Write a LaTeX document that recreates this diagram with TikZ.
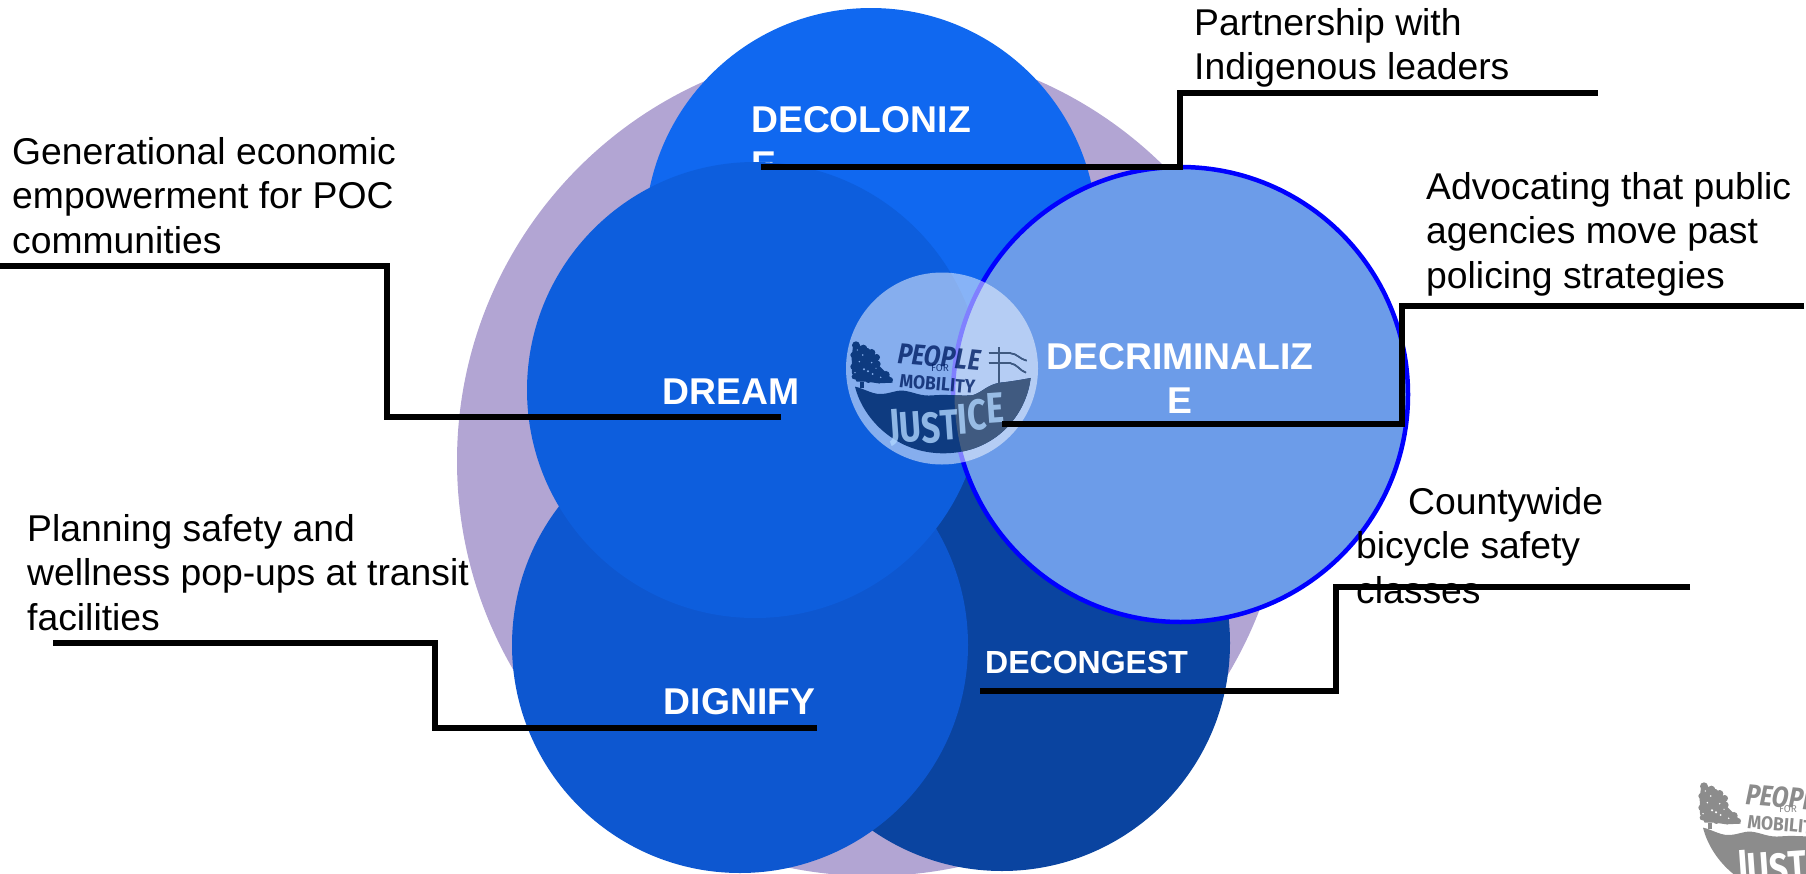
\documentclass[tikz,border=0pt]{standalone}
\usepackage{fontspec}
\setmainfont{Liberation Sans}
\newfontfamily\logofont{Fira Sans}
\definecolor{purplebg}{RGB}{178,165,211}
\definecolor{bluetop}{RGB}{16,104,240}
\definecolor{bluemid}{RGB}{13,94,221}
\definecolor{bluelow}{RGB}{13,87,208}
\definecolor{bluedark}{RGB}{10,68,160}
\definecolor{bluelight}{RGB}{108,156,233}
\definecolor{logonavy}{RGB}{14,59,128}
\definecolor{logoslate}{RGB}{64,90,128}
\definecolor{logoinkA}{RGB}{0,30,101}
\definecolor{logocutA}{RGB}{174,213,255}
\definecolor{logoletterL}{RGB}{134,175,237}
\definecolor{logogrey}{RGB}{140,140,140}
\tikzset{
  x=1pt,y=-1pt,
  venn/.style={fill=#1,draw=none},
  vennlabel/.style={text=white,inner sep=0pt,anchor=base west,font=\fontsize{37.3}{44.5}\selectfont\bfseries,align=left},
  callout/.style={text=black,inner sep=0pt,anchor=north west,font=\fontsize{37.3}{44.4}\selectfont,align=left},
  leader/.style={draw=black,line width=6.5pt,miter limit=10},
}
% #1 shape colour, #2 colour of the specks in the tree
\newcommand{\logoshapes}[2]{%
  \fill[#1] (165,440) .. controls (190,445) and (215,462) .. (240,462)
     .. controls (270,462) and (285,450) .. (310,452)
     .. controls (340,455) and (360,470) .. (400,466)
     .. controls (450,462) and (490,470) .. (520,465)
     .. controls (550,455) and (560,435) .. (600,428)
     .. controls (630,425) and (660,420) .. (692,414)
     .. controls (680,520) and (590,640) .. (430,640)
     .. controls (290,640) and (190,540) .. (165,440) -- cycle;
  \fill[#1] (160,312) -- (205,325) -- (232,350) -- (238,378) -- (268,408) -- (278,428) -- (235,430) -- (200,425) -- (170,425) -- (156,400) -- (155,350) -- cycle;
  \foreach \cx/\cy/\cr in {168/316/12,190/326/12,215/338/11,230/352/10,232/372/10,258/404/11,270/420/9,160/345/9,160/380/9,163/410/8,205/420/9,238/422/8}
    {\fill[#1] (\cx,\cy) circle[radius=\cr*0.3333pt];}
  \fill[#1] (179,425) rectangle (192,445);
  \foreach \cx/\cy/\cr in {188/345/2.5,215/368/2.5,192/388/3.5,204/394/3.5,218/402/3,178/365/2.5,242/412/2.5,165/398/2.5,228/385/2,172/330/2}
    {\fill[#2] (\cx,\cy) circle[radius=\cr*0.3333pt];}
  \draw[#1,line width=2.6pt] (597,322) -- (597,428);
  \draw[#1,line width=2pt] (566,340) -- (632,340) (566,370) -- (632,370);
  \draw[#1,line width=1.5pt] (632,340) .. controls (650,340) and (660,358) .. (680,362);
  \draw[#1,line width=1.5pt] (632,370) .. controls (650,372) and (660,392) .. (678,398);
}
% #1 ink colour, #2 colour of the cut-out letters, #3 opacity, #4 name suffix
\newcommand{\logotext}[4]{%
  \node[text=#1,text opacity=#3,inner sep=0pt,rotate=-5,font=\logofont\fontsize{29}{29}\selectfont\bfseries\itshape] (people#4) at (418,350) {\scalebox{0.84}[1]{PEOPLE}};
  \node[text=#1,text opacity=#3,inner sep=0pt,font=\logofont\fontsize{10}{10}\selectfont] (for#4) at (420,385) {FOR};
  \node[text=#1,text opacity=#3,inner sep=0pt,rotate=-5,font=\logofont\fontsize{19}{19}\selectfont\bfseries] (mobility#4) at (412,432) {\scalebox{0.92}[1]{MOBILITY}};
  \node[text=#2,text opacity=#3,inner sep=0pt,rotate=4,font=\logofont\fontsize{43}{43}\selectfont\bfseries] (justice#4) at (440,540)
    {\scalebox{0.78}[1]{J\kern-1pt\raisebox{-3pt}{U}\raisebox{-6pt}{S}\raisebox{-4pt}{T}\raisebox{0pt}{I}\raisebox{4pt}{C}\raisebox{9pt}{E}}};
}
\begin{document}
\begin{tikzpicture}
\useasboundingbox (0,0) rectangle (1806,873);
\begin{scope}
\clip (0,0) rectangle (1806,873);
\coordinate (lineAstart) at (0,266);
\coordinate (lineBstart) at (53,643);
\coordinate (lineCstart) at (1598,93);
\coordinate (lineDstart) at (1804,306);
\coordinate (lineEstart) at (1690,587);

\node[venn=purplebg,circle,minimum size=830pt,inner sep=0pt] (outer) at (872,461) {};

\node[venn=bluetop,circle,minimum size=452pt,inner sep=0pt] (cDecolonize) at (871,234) {};
\node[vennlabel] (tDecolonize) at (751,177) {DECOLONIZ\\E};

\node[venn=bluedark,circle,minimum size=456pt,inner sep=0pt] (cDecongest) at (1002,643) {};
\node[vennlabel,font=\fontsize{32}{38}\selectfont\bfseries] (tDecongest) at (985,673) {DECONGEST};

\node[venn=bluelow,circle,minimum size=456pt,inner sep=0pt] (cDignify) at (740,645) {};
\node[vennlabel,anchor=base] (tDignify) at (739.5,714) {DIGNIFY};

\node[venn=bluemid,circle,minimum size=456pt,inner sep=0pt] (cDream) at (755,390) {};
\node[vennlabel,anchor=base] (tDream) at (731,404) {DREAM};

\node[circle,fill=bluelight,draw=blue,line width=4.5pt,minimum size=455pt,inner sep=0pt] (cDecrim) at (1180.5,394.5) {};
\node[vennlabel,align=center,anchor=north] (tDecrim) at (1180,343) {DECRIMINALIZ\\E};

\node[circle,fill=white,fill opacity=0.5,minimum size=192pt,inner sep=0pt] (cCore) at (942,368.5) {};

\begin{scope}[shift={(800,240)},x=0.3333pt,y=-0.3333pt]
  \logoshapes{logonavy}{logoletterL}
\end{scope}
\begin{scope}
  \clip (1180.5,394.5) circle[radius=226pt];
  \begin{scope}[shift={(800,240)},x=0.3333pt,y=-0.3333pt]
    \logoshapes{logoslate}{logoletterL}
  \end{scope}
\end{scope}
\begin{scope}[shift={(800,240)},x=0.3333pt,y=-0.3333pt]
  \logotext{logoinkA}{logocutA}{0.8}{Main}
\end{scope}
\begin{scope}[shift={(1648,681)},x=0.3333pt,y=-0.3333pt]
  \logoshapes{logogrey}{white}
  \logotext{logogrey}{white}{1}{Grey}
\end{scope}

\coordinate (lineAend) at (781,417);
\coordinate (lineBend) at (817,728);
\coordinate (lineCend) at (761,167);
\coordinate (lineDend) at (1002,424);
\coordinate (lineEend) at (980,691);
\draw[leader] (lineAstart) -| (387,417) -- (lineAend);
\draw[leader] (lineBstart) -| (435,728) -- (lineBend);
\draw[leader] (lineCstart) -| (1180,167) -- (lineCend);
\draw[leader] (lineDstart) -| (1402,424) -- (lineDend);
\draw[leader] (lineEstart) -| (1336,691) -- (lineEend);

\node[callout] (lGen) at (12,137) {Generational economic\\empowerment for POC\\communities};
\node[callout] (lPart) at (1194,8) {Partnership with\\Indigenous leaders};
\node[callout] (lAdv) at (1426,172) {Advocating that public\\agencies move past\\policing strategies};
\node[callout] (lPlan) at (27,514) {Planning safety and\\wellness pop-ups at transit\\facilities};
\node[callout] (lBike) at (1356,487) {\hspace*{52pt}Countywide\\bicycle safety\\classes};
\end{scope}
\end{tikzpicture}
\end{document}
